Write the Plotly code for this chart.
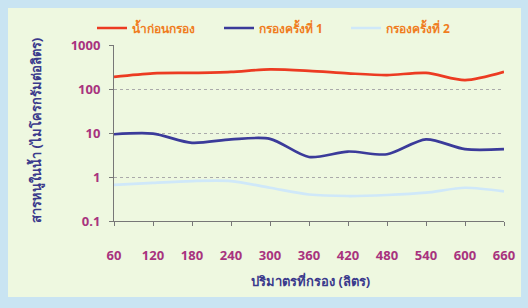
import plotly.graph_objects as go

volumes = [60, 120, 180, 240, 300, 360, 420, 480, 540, 600, 660]
raw_water = [190, 228, 234, 247, 280, 260, 228, 208, 234, 160, 247]
filter_1 = [9.4, 9.7, 6.0, 7.2, 7.4, 2.85, 3.8, 3.3, 7.2, 4.3, 4.3]
filter_2 = [0.66, 0.74, 0.81, 0.81, 0.57, 0.40, 0.37, 0.39, 0.44, 0.57, 0.47]
names = ["น้ำก่อนกรอง", "กรองครั้งที่ 1", "กรองครั้งที่ 2"]
ytick_vals = [0.1, 1, 10, 100, 1000]
ytick_text = ["0.1", "1", "10", "100", "1000"]
xtick_vals = volumes
x_title = "ปริมาตรที่กรอง (ลิตร)"
y_title = "สารหนูในน้ำ (ไมโครกรัมต่อลิตร)"

FONT = "Tahoma, 'Noto Sans', 'DejaVu Sans', sans-serif"
L, R, T, B = 114, 24, 45, 87
W, H = 528, 308
pw, ph = W - L - R, H - T - B

def px(x):
    return (x - L) / pw

def py(y):
    return (H - B - y) / ph

TICK_FONT = dict(color="#a8337e", size=13, family=FONT, weight="bold")
TITLE_COLOR = "#3a3a8c"

fig = go.Figure()
for vals, name, color in [(raw_water, names[0], "#ec3b22"),
                          (filter_1, names[1], "#3b3b9a"),
                          (filter_2, names[2], "#cfe8f9")]:
    fig.add_trace(go.Scatter(x=volumes, y=vals, name=name, mode="lines",
                             line=dict(color=color, width=2.7, shape="spline", smoothing=0.8)))

# invisible helper trace on the overlay axis (carries the small visible tick marks)
fig.add_trace(go.Scatter(x=[volumes[0]], y=[filter_2[0]], xaxis="x2", mode="lines",
                         showlegend=False, hoverinfo="skip", line=dict(width=0)))

fig.add_shape(type="rect", xref="paper", yref="paper", layer="below",
              x0=px(8), x1=px(521), y0=py(297), y1=py(8),
              fillcolor="#eef8e0", line=dict(width=0))

fig.add_annotation(text=x_title, xref="paper", yref="paper", x=px(310), y=py(281),
                   showarrow=False, xanchor="center", yanchor="middle",
                   font=dict(color=TITLE_COLOR, size=13, family=FONT, weight="bold"))
fig.add_annotation(text=y_title, xref="paper", yref="paper", x=px(35), y=py(131),
                   showarrow=False, xanchor="center", yanchor="middle", textangle=-90,
                   font=dict(color=TITLE_COLOR, size=13, family=FONT, weight="bold"))

fig.update_layout(
    width=W, height=H,
    margin=dict(l=L, r=R, t=T, b=B, autoexpand=False),
    paper_bgcolor="#c9e4f2",
    plot_bgcolor="rgba(0,0,0,0)",
    font=dict(family=FONT, size=11),
    legend=dict(orientation="h", x=px(92), y=1 + (T - 28) / ph, xanchor="left", yanchor="middle",
                font=dict(color="#f07d1e", size=12, family=FONT, weight="bold"),
                bgcolor="rgba(0,0,0,0)", itemwidth=30, tracegroupgap=0,
                entrywidth=82, entrywidthmode="pixels"),
    xaxis=dict(range=[60, 660], tickvals=xtick_vals, ticks="outside", ticklen=22,
               tickcolor="rgba(0,0,0,0)", showline=True, linecolor="#777777", linewidth=1,
               showgrid=False, zeroline=False, automargin=False,
               tickfont=TICK_FONT),
    xaxis2=dict(range=[60, 660], tickvals=xtick_vals, ticks="outside", ticklen=4,
                tickcolor="#777777", overlaying="x", side="bottom", anchor="y",
                showticklabels=False, showgrid=False, zeroline=False, showline=False),
    yaxis=dict(type="log", range=[-1, 3.003], tickvals=ytick_vals, ticktext=ytick_text,
               ticks="outside", ticklen=4, tickcolor="#777777", showline=True,
               linecolor="#777777", linewidth=1, showgrid=True, gridcolor="#aaaaaa",
               griddash="dot", gridwidth=1, zeroline=False, ticklabelstandoff=6,
               automargin=False, tickfont=TICK_FONT),
)

fig.write_html("out.html", config={"displayModeBar": False},
               post_script="document.body.style.margin='0';document.body.style.background='#c9e4f2';")
